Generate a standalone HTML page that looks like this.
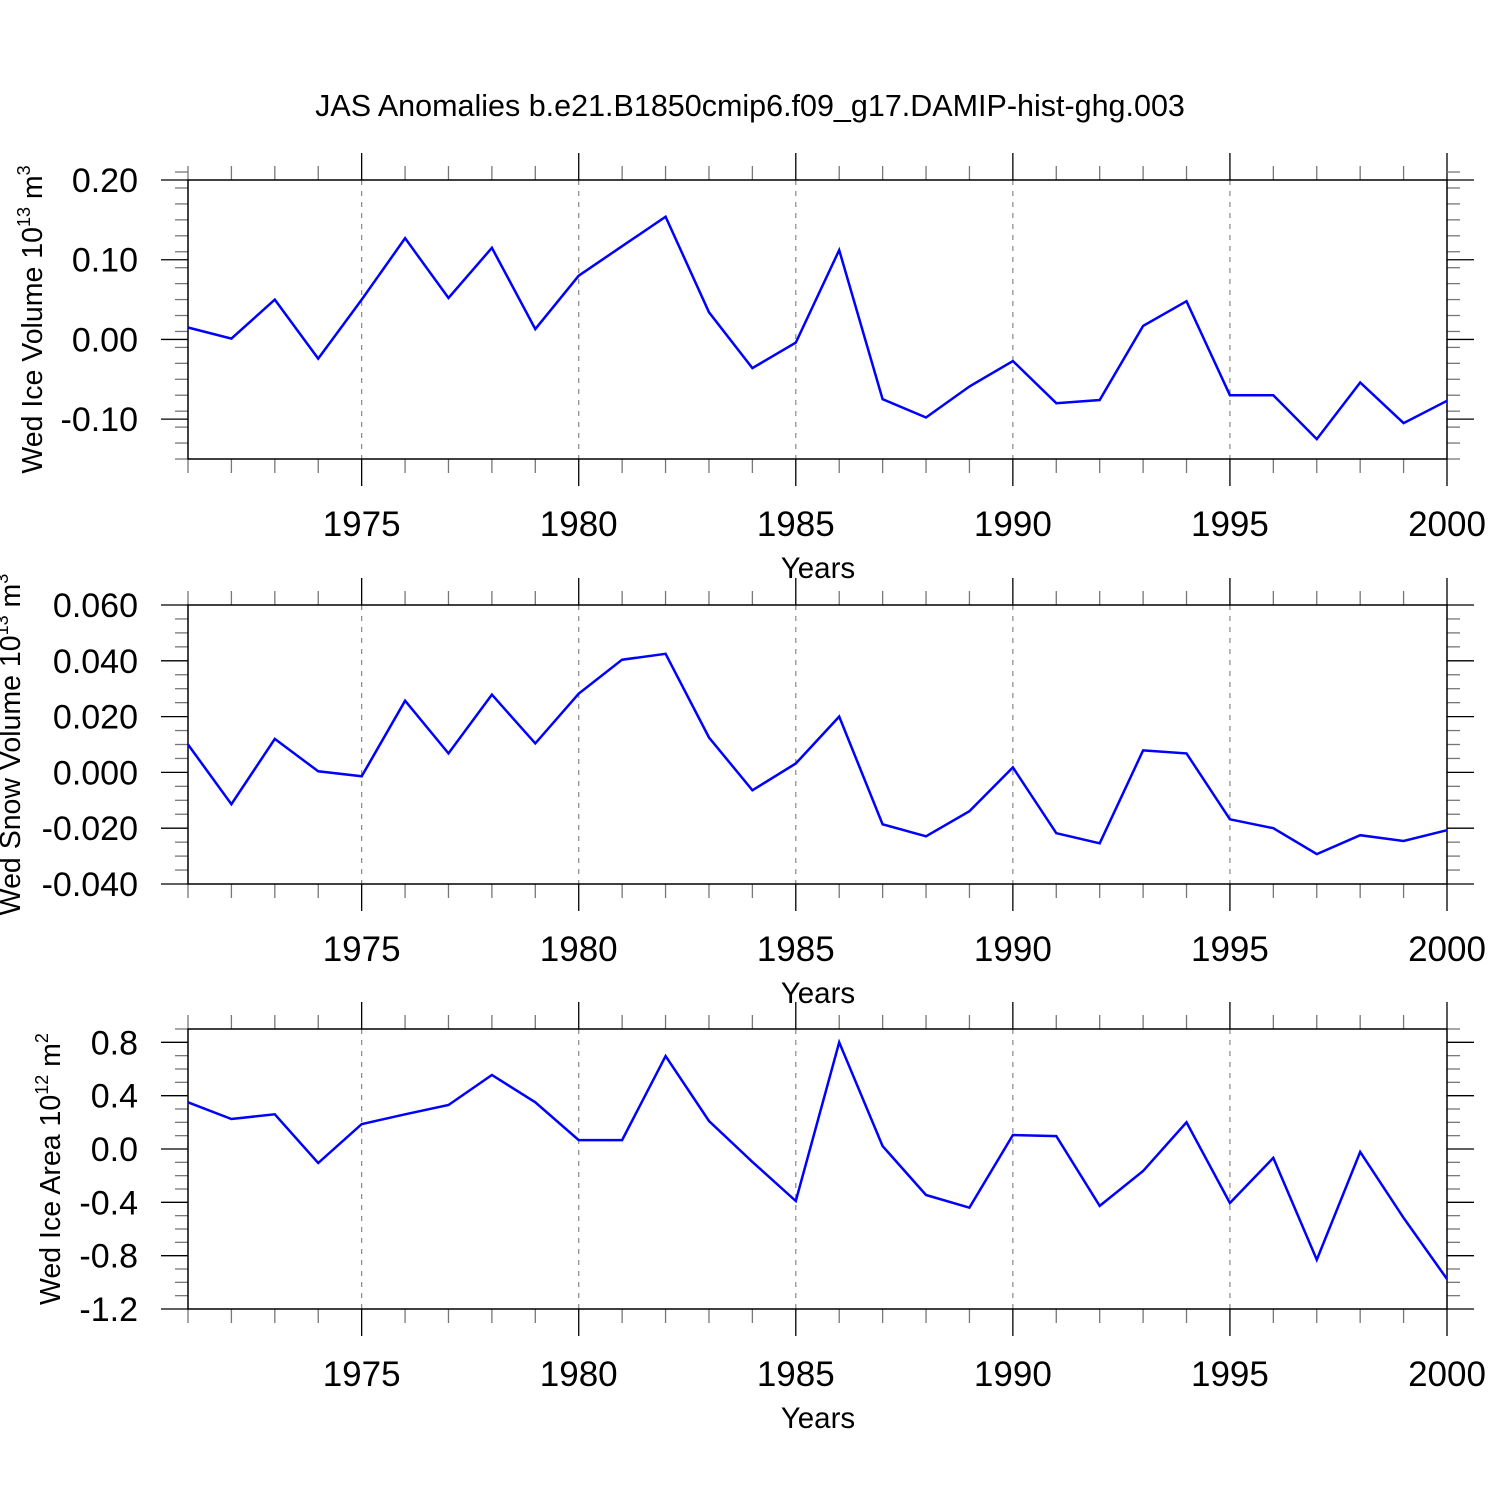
<!DOCTYPE html>
<html><head><meta charset="utf-8"><style>
html,body{margin:0;padding:0;background:#fff;}
svg{display:block;font-family:"Liberation Sans",sans-serif;}
</style></head><body>
<svg id="chart" width="1500" height="1500" xmlns="http://www.w3.org/2000/svg">
<text x="750" y="116" text-anchor="middle" font-size="30.5">JAS Anomalies b.e21.B1850cmip6.f09_g17.DAMIP-hist-ghg.003</text>
</svg>
<script>
const years = [1971,1972,1973,1974,1975,1976,1977,1978,1979,1980,1981,1982,1983,1984,1985,1986,1987,1988,1989,1990,1991,1992,1993,1994,1995,1996,1997,1998,1999,2000];
const iceVolume = [0.015,0.001,0.05,-0.024,0.05,0.127,0.052,0.115,0.013,0.08,0.117,0.154,0.034,-0.036,-0.004,0.112,-0.075,-0.098,-0.059,-0.027,-0.08,-0.076,0.017,0.048,-0.07,-0.07,-0.125,-0.054,-0.105,-0.077];
const snowVolume = [0.010,-0.0114,0.012,0.0004,-0.0014,0.0257,0.0068,0.0279,0.0104,0.0282,0.0404,0.0425,0.0125,-0.0064,0.0032,0.020,-0.0186,-0.0229,-0.0139,0.0018,-0.0218,-0.0254,0.0079,0.0068,-0.0168,-0.02,-0.0293,-0.0225,-0.0246,-0.0207];
const iceArea = [0.35,0.225,0.26,-0.105,0.187,0.26,0.33,0.555,0.35,0.067,0.067,0.697,0.21,-0.097,-0.39,0.80,0.022,-0.345,-0.44,0.105,0.097,-0.427,-0.165,0.2,-0.405,-0.067,-0.83,-0.022,-0.517,-0.975];
const xTicks = [1975,1980,1985,1990,1995,2000];
const iceVolTicks = [0.2,0.1,0,-0.1];
const iceVolLabels = ["0.20","0.10","0.00","-0.10"];
const snowTicks = [0.06,0.04,0.02,0,-0.02,-0.04];
const snowLabels = ["0.060","0.040","0.020","0.000","-0.020","-0.040"];
const areaTicks = [0.8,0.4,0,-0.4,-0.8,-1.2];
const areaLabels = ["0.8","0.4","0.0","-0.4","-0.8","-1.2"];

const svg = document.getElementById('chart');
const NS = 'http://www.w3.org/2000/svg';
const X0 = 188, X1 = 1447, XMIN = 1971, XMAX = 2000;
function xs(v){ return X0 + (v - XMIN) * (X1 - X0) / (XMAX - XMIN); }
function mk(tag, attrs, parent){
  const e = document.createElementNS(NS, tag);
  for (const k in attrs) e.setAttribute(k, attrs[k]);
  (parent || svg).appendChild(e);
  return e;
}

const panels = [
  {name:'ice-volume', top:180, bottom:459, vmax:0.2, vmin:-0.15, data:iceVolume, ticks:iceVolTicks, labels:iceVolLabels, minorStep:0.02, label:'Wed Ice Volume 10', sup:'13', unit:' m', usup:'3', lx:42},
  {name:'snow-volume', top:605, bottom:884, vmax:0.06, vmin:-0.04, data:snowVolume, ticks:snowTicks, labels:snowLabels, minorStep:0.005, label:'Wed Snow Volume 10', sup:'13', unit:' m', usup:'3', lx:20},
  {name:'ice-area', top:1029, bottom:1309, vmax:0.9, vmin:-1.2, data:iceArea, ticks:areaTicks, labels:areaLabels, minorStep:0.1, label:'Wed Ice Area 10', sup:'12', unit:' m', usup:'2', lx:60}
];

panels.forEach(p => {
  const g = mk('g', {});
  
  
  const ys = v => p.bottom - (v - p.vmin) * (p.bottom - p.top) / (p.vmax - p.vmin);
  xTicks.forEach(t => {
    if (t === XMAX) return;
    const l = mk('line', {x1:xs(t), x2:xs(t), y1:p.top, y2:p.bottom, stroke:'#888', 'stroke-width':1.2, 'stroke-dasharray':'5,6'}, g);
    
    
  });
  for (let yr = XMIN; yr <= XMAX; yr++) {
    const maj = xTicks.includes(yr);
    const len = maj ? 27 : 14;
    const col = maj ? '#000' : '#777';
    mk('line', {x1:xs(yr), x2:xs(yr), y1:p.top, y2:p.top - len, stroke:col, 'stroke-width':1.3}, g);
    mk('line', {x1:xs(yr), x2:xs(yr), y1:p.bottom, y2:p.bottom + len, stroke:col, 'stroke-width':1.3}, g);
  }
  const nMin = Math.round((p.vmax - p.vmin) / p.minorStep);
  for (let i = 0; i <= nMin; i++) {
    const v = p.vmin + i * p.minorStep;
    const isMaj = p.ticks.some(t => Math.abs(t - v) < p.minorStep / 10);
    if (isMaj) continue;
    const y = ys(v);
    mk('line', {x1:X0, x2:X0 - 13, y1:y, y2:y, stroke:'#777', 'stroke-width':1.3}, g);
    mk('line', {x1:X1, x2:X1 + 13, y1:y, y2:y, stroke:'#777', 'stroke-width':1.3}, g);
  }
  p.ticks.forEach((t, i) => {
    const y = ys(t);
    mk('line', {x1:X0, x2:X0 - 27, y1:y, y2:y, stroke:'#000', 'stroke-width':1.3}, g);
    mk('line', {x1:X1, x2:X1 + 27, y1:y, y2:y, stroke:'#000', 'stroke-width':1.3}, g);
    const tx = mk('text', {x:138, y:y + 12, 'text-anchor':'end', 'font-size':34}, g);
    tx.textContent = p.labels[i];
    
    
  });
  const fr = mk('rect', {x:X0, y:p.top, width:X1 - X0, height:p.bottom - p.top, fill:'none', stroke:'#000', 'stroke-width':1.5}, g);
  
  
  xTicks.forEach(t => {
    const tx = mk('text', {x:xs(t), y:p.bottom + 77, 'text-anchor':'middle', 'font-size':35}, g);
    tx.textContent = t;
    
    
  });
  const xt = mk('text', {x:818, y:p.bottom + 119, 'text-anchor':'middle', 'font-size':29.5}, g);
  xt.textContent = 'Years';
  
  
  const cy = (p.top + p.bottom) / 2;
  const yt = mk('text', {x:0, y:0, 'text-anchor':'middle', 'font-size':28.5, transform:`translate(${p.lx},${cy}) rotate(-90)`}, g);
  
  
  const t1 = mk('tspan', {}, yt); t1.textContent = p.label;
  const t2 = mk('tspan', {dy:-12, 'font-size':18}, yt); t2.textContent = p.sup;
  const t3 = mk('tspan', {dy:12}, yt); t3.textContent = p.unit;
  const t4 = mk('tspan', {dy:-12, 'font-size':18}, yt); t4.textContent = p.usup;
  const pts = years.map((yr, i) => xs(yr).toFixed(1) + ',' + ys(p.data[i]).toFixed(1)).join(' ');
  const line = mk('polyline', {points:pts, fill:'none', stroke:'#0000ff', 'stroke-width':2.5, 'stroke-linejoin':'miter'}, g);
  
  
});
</script>
</body></html>
